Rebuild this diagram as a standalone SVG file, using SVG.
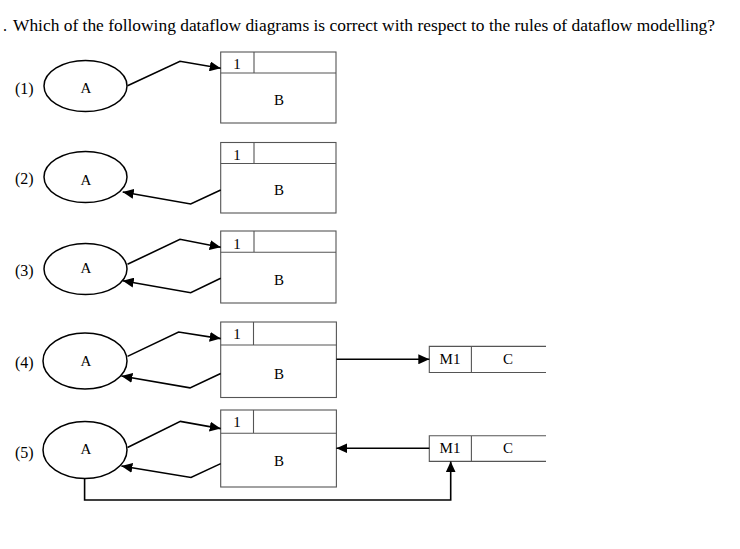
<svg xmlns="http://www.w3.org/2000/svg" width="740" height="549" viewBox="0 0 740 549">
<style>
text{font-family:"Liberation Serif","Times New Roman",serif;fill:#000}
.t{font-size:16px}
.lb{font-size:16px}
.n{font-size:15px;text-anchor:middle}
.el{fill:#fff;stroke:#000;stroke-width:1.5}
.bx{fill:#fff;stroke:#555;stroke-width:1.1}
.ln{fill:none;stroke:#555;stroke-width:1.1}
.fl{fill:none;stroke:#000;stroke-width:1.6;marker-end:url(#ah)}
</style>
<defs>
<marker id="ah" markerUnits="userSpaceOnUse" markerWidth="12" markerHeight="10" refX="11" refY="5" orient="auto">
<path d="M0,0 L11,5 L0,10 Z" fill="#000"/>
</marker>
</defs>
<rect width="740" height="549" fill="#fff"/>
<text class="t" x="3" y="31">.</text>
<text class="t" x="13" y="31" textLength="702" lengthAdjust="spacingAndGlyphs">Which of the following dataflow diagrams is correct with respect to the rules of dataflow modelling?</text>

<g id="labels">
<text class="lb" x="15" y="94">(1)</text>
<text class="lb" x="15" y="184">(2)</text>
<text class="lb" x="15" y="276">(3)</text>
<text class="lb" x="15" y="368">(4)</text>
<text class="lb" x="15" y="458">(5)</text>
</g>

<g id="A1"><ellipse class="el" cx="85.5" cy="86" rx="41.5" ry="25.5"/><text class="n" x="86" y="93">A</text></g>
<g id="A2"><ellipse class="el" cx="85.5" cy="177" rx="41.5" ry="25.5"/><text class="n" x="86" y="185">A</text></g>
<g id="A3"><ellipse class="el" cx="85.5" cy="269" rx="41.5" ry="25.5"/><text class="n" x="86" y="273">A</text></g>
<g id="A4"><ellipse class="el" cx="85" cy="361" rx="42" ry="28"/><text class="n" x="86" y="366">A</text></g>
<g id="A5"><ellipse class="el" cx="85" cy="450" rx="42" ry="28.5"/><text class="n" x="86" y="454">A</text></g>

<g id="B1"><rect class="bx" x="220.7" y="52" width="115.3" height="71"/><path class="ln" d="M220.7,73H336M254,52V73"/><text class="n" x="237" y="69">1</text><text class="n" x="279" y="105">B</text></g>
<g id="B2"><rect class="bx" x="220.7" y="142.5" width="115.3" height="70.5"/><path class="ln" d="M220.7,163.5H336M254,142.5V163.5"/><text class="n" x="237" y="160">1</text><text class="n" x="279" y="195">B</text></g>
<g id="B3"><rect class="bx" x="220.7" y="231" width="115.3" height="72"/><path class="ln" d="M220.7,252.3H336M254,231V252.3"/><text class="n" x="237" y="249">1</text><text class="n" x="279" y="285">B</text></g>
<g id="B4"><rect class="bx" x="220.7" y="322" width="115.7" height="75.5"/><path class="ln" d="M220.7,345H336.4M253.5,322V345"/><text class="n" x="237" y="339">1</text><text class="n" x="279" y="379">B</text></g>
<g id="B5"><rect class="bx" x="220.7" y="410" width="115.7" height="77"/><path class="ln" d="M220.7,433.2H336.4M253.5,410V433.2"/><text class="n" x="237" y="427">1</text><text class="n" x="279" y="466">B</text></g>

<g id="M1a"><path class="ln" d="M546,346.4H429.3V372.5H546M471.4,346.4V372.5"/><text class="n" x="450" y="364">M1</text><text class="n" x="508" y="364">C</text></g>
<g id="M1b"><path class="ln" d="M546,435.7H429.3V461.4H546M471.4,435.7V461.4"/><text class="n" x="450" y="453">M1</text><text class="n" x="508" y="453">C</text></g>

<g id="connectors">
<path class="fl" d="M127.5,85.7L180,61.3L220.7,68.3"/>
<path class="fl" d="M220.7,190L190.7,204L122.7,192"/>
<path class="fl" d="M127.5,264.3L180,239.3L220.7,247.3"/>
<path class="fl" d="M220.7,278.3L190.7,292.7L122.7,280.7"/>
<path class="fl" d="M127.5,356.4L178.6,332L220.7,338.6"/>
<path class="fl" d="M220.7,373.6L190,387.9L121.4,376"/>
<path class="fl" d="M336.4,359.3H429.3"/>
<path class="fl" d="M127.5,447.5L180.4,421.4L220.7,428.6"/>
<path class="fl" d="M220.7,463.6L191,477.5L121.4,466"/>
<path class="fl" d="M429.3,448.2H336.4"/>
<path class="fl" d="M84.6,478.6V500H450.7V461.4"/>
</g>
</svg>
